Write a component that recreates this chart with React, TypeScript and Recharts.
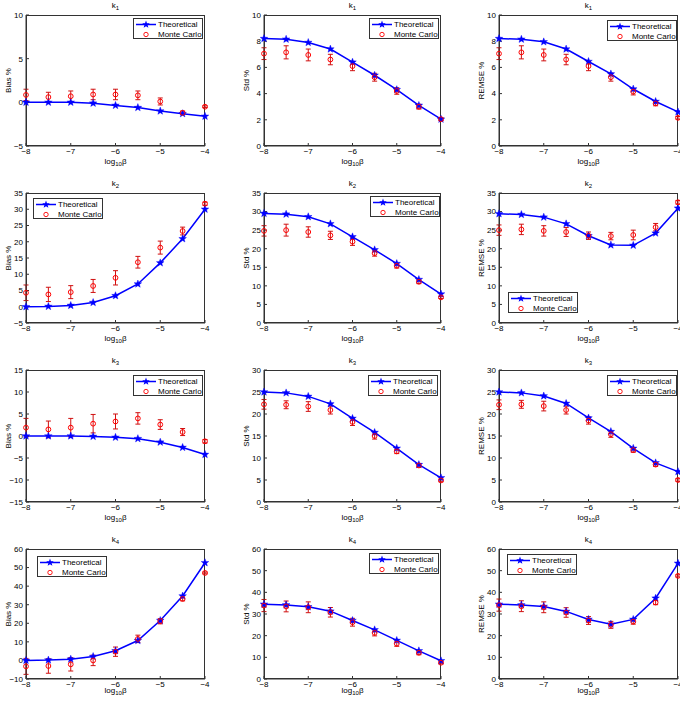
import React from 'react';
import { ComposedChart, Line, XAxis, YAxis, ErrorBar, Legend } from 'recharts';

const FONT = '"Liberation Sans", Arial, Helvetica, sans-serif';
const AX = '#333';
const BLUE = '#0000ff';
const RED = '#ff0000';
const BAR_RED = '#d01010';

const logBeta = [-8, -7.5, -7, -6.5, -6, -5.5, -5, -4.5, -4];
const xTicks = [-8, -7, -6, -5, -4];

// k1
const k1BiasTheo = [0, 0, 0, -0.1, -0.35, -0.6, -1.0, -1.3, -1.6];
const k1BiasMC = [0.85, 0.6, 0.7, 0.9, 0.9, 0.8, 0.1, -1.2, -0.5];
const k1BiasErr = [0.65, 0.55, 0.6, 0.6, 0.6, 0.5, 0.4, 0.2, 0.1];
const k1StdTheo = [8.2, 8.15, 7.9, 7.4, 6.4, 5.4, 4.3, 3.1, 2.05];
const k1StdMC = [7.05, 7.15, 6.95, 6.6, 6.1, 5.25, 4.2, 3.0, 2.05];
const k1StdErr = [0.45, 0.5, 0.45, 0.4, 0.35, 0.3, 0.25, 0.18, 0.1];
const k1RemseTheo = [8.2, 8.15, 7.95, 7.4, 6.45, 5.5, 4.35, 3.4, 2.6];
const k1RemseMC = [7.05, 7.15, 6.95, 6.6, 6.1, 5.25, 4.15, 3.25, 2.15];
const k1RemseErr = [0.45, 0.5, 0.45, 0.4, 0.35, 0.3, 0.25, 0.18, 0.1];

// k2
const k2BiasTheo = [0, 0.1, 0.4, 1.3, 3.4, 7.0, 13.5, 20.9, 30.0];
const k2BiasMC = [4.3, 3.8, 4.5, 6.4, 8.9, 13.7, 18.2, 23.3, 31.7];
const k2BiasErr = [2.4, 2.2, 2.0, 2.0, 2.2, 1.8, 2.0, 1.2, 0.5];
const k2StdTheo = [29.5, 29.3, 28.6, 26.7, 23.2, 19.7, 16.0, 11.7, 7.8];
const k2StdMC = [24.8, 25.0, 24.5, 23.6, 21.9, 18.8, 15.4, 11.1, 6.9];
const k2StdErr = [1.4, 1.6, 1.4, 1.1, 1.0, 0.8, 0.6, 0.5, 0.3];
const k2RemseTheo = [29.4, 29.2, 28.5, 26.7, 23.5, 21.0, 20.9, 24.2, 30.9];
const k2RemseMC = [25.0, 25.2, 24.8, 24.5, 23.5, 23.4, 23.7, 25.8, 32.5];
const k2RemseErr = [1.4, 1.4, 1.4, 1.2, 1.0, 1.0, 1.3, 1.0, 0.5];

// k3
const k3BiasTheo = [0, 0, 0, -0.1, -0.3, -0.6, -1.4, -2.6, -4.2];
const k3BiasMC = [1.9, 1.5, 1.9, 2.8, 3.3, 4.0, 2.6, 0.9, -1.2];
const k3BiasErr = [2.1, 1.9, 2.1, 2.1, 1.7, 1.3, 1.1, 0.8, 0.4];
const k3StdTheo = [25.0, 24.8, 24.0, 22.3, 19.0, 15.8, 12.2, 8.5, 5.5];
const k3StdMC = [22.2, 22.1, 21.7, 20.9, 18.2, 15.0, 11.5, 8.3, 4.9];
const k3StdErr = [1.1, 0.9, 1.1, 0.9, 0.8, 0.7, 0.5, 0.4, 0.3];
const k3RemseTheo = [25.0, 24.8, 24.1, 22.4, 19.1, 16.0, 12.2, 8.9, 6.9];
const k3RemseMC = [22.1, 22.2, 21.8, 20.9, 18.5, 15.4, 11.8, 8.5, 5.0];
const k3RemseErr = [1.1, 0.9, 1.1, 0.9, 0.8, 0.7, 0.5, 0.4, 0.3];

// k4
const k4BiasTheo = [0, 0.2, 0.7, 2.1, 5.2, 10.7, 21.5, 34.7, 52.6];
const k4BiasMC = [-3.2, -3.0, -2.1, 0, 4.7, 11.6, 21.1, 33.1, 47.1];
const k4BiasErr = [4.3, 3.9, 3.6, 2.8, 2.5, 2.0, 1.4, 1.0, 0.5];
const k4StdTheo = [34.5, 34.2, 33.3, 31.3, 27.0, 22.7, 17.8, 13.0, 8.4];
const k4StdMC = [33.9, 33.5, 33.1, 30.8, 26.2, 21.3, 16.3, 12.1, 7.5];
const k4StdErr = [2.8, 2.5, 2.5, 2.2, 1.8, 1.4, 1.2, 0.9, 0.5];
const k4RemseTheo = [34.5, 34.2, 33.5, 31.2, 27.5, 25.3, 27.5, 37.3, 53.4];
const k4RemseMC = [34.1, 33.6, 33.1, 30.7, 27.0, 25.0, 26.5, 35.3, 47.6];
const k4RemseErr = [2.8, 2.5, 2.5, 2.2, 1.8, 1.6, 1.2, 1.0, 0.5];

// y tick labels
const k1BiasTicks = [-5, 0, 5, 10];
const k1StdTicks = [0, 2, 4, 6, 8, 10];
const k2BiasTicks = [-5, 0, 5, 10, 15, 20, 25, 30, 35];
const k2StdTicks = [0, 5, 10, 15, 20, 25, 30, 35];
const k3BiasTicks = [-15, -10, -5, 0, 5, 10, 15];
const k3StdTicks = [0, 5, 10, 15, 20, 25, 30];
const k4BiasTicks = [-10, 0, 10, 20, 30, 40, 50, 60];
const k4StdTicks = [0, 10, 20, 30, 40, 50, 60];

// plot-area edges of the grid
const COLS = [{ x0: 26, x1: 205 }, { x0: 264, x1: 441 }, { x0: 499, x1: 678 }];
const ROWS = [{ y0: 15, y1: 146 }, { y0: 193, y1: 323 }, { y0: 370, y1: 502 }, { y0: 549, y1: 679 }];

const panels = [
  { k: '1', yLabel: 'Bias %', ticks: k1BiasTicks, theo: k1BiasTheo, mc: k1BiasMC, err: k1BiasErr, legend: { right: 2, top: 3 } },
  { k: '1', yLabel: 'Std %', ticks: k1StdTicks, theo: k1StdTheo, mc: k1StdMC, err: k1StdErr, legend: { right: 2, top: 3 } },
  { k: '1', yLabel: 'REMSE %', ticks: k1StdTicks, theo: k1RemseTheo, mc: k1RemseMC, err: k1RemseErr, legend: { right: 1, top: 5 } },
  { k: '2', yLabel: 'Bias %', ticks: k2BiasTicks, theo: k2BiasTheo, mc: k2BiasMC, err: k2BiasErr, legend: { left: 7, top: 5 } },
  { k: '2', yLabel: 'Std %', ticks: k2StdTicks, theo: k2StdTheo, mc: k2StdMC, err: k2StdErr, legend: { right: 1, top: 3 } },
  { k: '2', yLabel: 'REMSE %', ticks: k2StdTicks, theo: k2RemseTheo, mc: k2RemseMC, err: k2RemseErr, legend: { left: 9, bottom: 10 } },
  { k: '3', yLabel: 'Bias %', ticks: k3BiasTicks, theo: k3BiasTheo, mc: k3BiasMC, err: k3BiasErr, legend: { right: 2, top: 5 } },
  { k: '3', yLabel: 'Std %', ticks: k3StdTicks, theo: k3StdTheo, mc: k3StdMC, err: k3StdErr, legend: { right: 3, top: 5 } },
  { k: '3', yLabel: 'REMSE %', ticks: k3StdTicks, theo: k3RemseTheo, mc: k3RemseMC, err: k3RemseErr, legend: { right: 1, top: 5 } },
  { k: '4', yLabel: 'Bias %', ticks: k4BiasTicks, theo: k4BiasTheo, mc: k4BiasMC, err: k4BiasErr, legend: { left: 11, top: 7 } },
  { k: '4', yLabel: 'Std %', ticks: k4StdTicks, theo: k4StdTheo, mc: k4StdMC, err: k4StdErr, legend: { right: 2, top: 4 } },
  { k: '4', yLabel: 'REMSE %', ticks: k4StdTicks, theo: k4RemseTheo, mc: k4RemseMC, err: k4RemseErr, legend: { left: 8, top: 5 } },
];

const fmt = (v: number) => (v < 0 ? `\u2212${-v}` : `${v}`);

function starPath(cx: number, cy: number, R: number) {
  const r = R * 0.42;
  let d = '';
  for (let i = 0; i < 10; i++) {
    const a = -Math.PI / 2 + (i * Math.PI) / 5;
    const rad = i % 2 === 0 ? R : r;
    d += (i === 0 ? 'M' : 'L') + (cx + rad * Math.cos(a)).toFixed(2) + ',' + (cy + rad * Math.sin(a)).toFixed(2);
  }
  return d + 'Z';
}

const StarDot = (p: any) => {
  if (p.cx == null || p.cy == null) return <g key={p.index} />;
  return <path key={p.index} d={starPath(p.cx, p.cy, 4)} fill={BLUE} stroke={BLUE} strokeWidth={0.4} />;
};

const CircleDot = (p: any) => {
  if (p.cx == null || p.cy == null) return <g key={p.index} />;
  return <circle key={p.index} cx={p.cx} cy={p.cy} r={2.4} fill="none" stroke={RED} strokeWidth={1} />;
};

const LegendBox = () => (
  <div style={{
    width: 70, height: 21, boxSizing: 'border-box', border: `1px solid ${AX}`, background: '#fff',
    fontFamily: FONT, fontSize: 8, color: '#000', padding: '1px 0',
  }}>
    <div style={{ display: 'flex', alignItems: 'center', height: 9.5 }}>
      <svg width={23} height={9} style={{ display: 'block' }}>
        <line x1={2} y1={4.5} x2={22} y2={4.5} stroke={BLUE} strokeWidth={1.5} />
        <path d={starPath(12, 4.5, 4)} fill={BLUE} />
      </svg>
      <span style={{ marginLeft: 1 }}>Theoretical</span>
    </div>
    <div style={{ display: 'flex', alignItems: 'center', height: 9.5 }}>
      <svg width={23} height={9} style={{ display: 'block' }}>
        <circle cx={12} cy={4.5} r={2.2} fill="none" stroke={RED} strokeWidth={0.9} />
      </svg>
      <span style={{ marginLeft: 1 }}>Monte Carlo</span>
    </div>
  </div>
);

function Panel({ p, col, row }: { p: any; col: number; row: number }) {
  const { x0, x1 } = COLS[col];
  const { y0, y1 } = ROWS[row];
  const pw = x1 - x0;
  const ph = y1 - y0;
  const W = pw + 50;
  const H = ph + 45;
  const data = logBeta.map((x, i) => ({ x, theo: p.theo[i], mc: p.mc[i], err: p.err[i] }));
  const yDomain = [p.ticks[0], p.ticks[p.ticks.length - 1]];

  const lg = p.legend;
  const wrap: any = { width: 70, height: 21 };
  if (lg.right != null) wrap.right = 10 + lg.right; else wrap.left = 40 + lg.left;
  if (lg.top != null) wrap.top = 15 + lg.top; else wrap.bottom = 30 + lg.bottom;

  const xLabelDy = row === 3 ? 14 : 18;
  const xLabel = (props: any) => {
    const vb = props.viewBox;
    return (
      <text x={vb.x + vb.width / 2} y={vb.y + xLabelDy} textAnchor="middle" fontSize={8} fontFamily={FONT} fill="#000">
        log<tspan dy={2} fontSize={6}>10</tspan><tspan dy={-2}>β</tspan>
      </text>
    );
  };
  // y-axis label plus the panel title above the plot
  const yLabel = (props: any) => {
    const vb = props.viewBox;
    const cx = vb.x + vb.width - 18;
    const cy = vb.y + vb.height / 2;
    const plotLeft = vb.x + vb.width;
    return (
      <g>
        <text x={cx} y={cy} transform={`rotate(-90, ${cx}, ${cy})`} textAnchor="middle" dominantBaseline="central"
          fontSize={8} fontFamily={FONT} fill="#000">
          {p.yLabel}
        </text>
        <text x={plotLeft + pw / 2} y={vb.y - 7} textAnchor="middle" fontSize={8} fontFamily={FONT} fill="#000">
          k<tspan dy={2} fontSize={6}>{p.k}</tspan>
        </text>
      </g>
    );
  };

  const tickStyle = { fontSize: 8, fill: '#000', fontFamily: FONT };
  const axisLine = { stroke: AX, strokeWidth: 1 };
  const tickLine = { stroke: AX, strokeWidth: 1 };

  return (
    <div style={{ position: 'absolute', left: x0 - 40, top: y0 - 15 }}>
      {/* frame of the axes box */}
      <div style={{
        position: 'absolute', left: 40, top: 15, width: pw, height: ph,
        border: `1px solid ${AX}`, boxSizing: 'border-box', pointerEvents: 'none',
      }} />
      <ComposedChart width={W} height={H} data={data} margin={{ top: 15, right: 10, bottom: 0, left: 0 }}>
        <XAxis dataKey="x" type="number" domain={[-8, -4]} ticks={xTicks} interval={0} tickFormatter={fmt}
          tickSize={-3} tickMargin={5} height={30} axisLine={axisLine} tickLine={tickLine} tick={tickStyle} label={xLabel} />
        <YAxis type="number" domain={yDomain} ticks={p.ticks} interval={0} tickFormatter={fmt}
          tickSize={-3} tickMargin={6} width={40} axisLine={axisLine} tickLine={tickLine} tick={tickStyle} label={yLabel} />
        <Line dataKey="theo" stroke={BLUE} strokeWidth={1.5} dot={StarDot} activeDot={false} isAnimationActive={false} />
        <Line dataKey="mc" stroke="none" dot={CircleDot} activeDot={false} isAnimationActive={false}>
          <ErrorBar dataKey="err" direction="y" width={2.5} stroke={BAR_RED} strokeWidth={1} isAnimationActive={false} />
        </Line>
        <Legend content={LegendBox} wrapperStyle={wrap} layout="horizontal" verticalAlign="middle" align="center" />
      </ComposedChart>
    </div>
  );
}

export default function App() {
  return (
    <div style={{ position: 'absolute', left: 0, top: 0, width: 680, height: 701, overflow: 'hidden', background: '#fff' }}>
      {panels.map((p, i) => (
        <Panel key={i} p={p} col={i % 3} row={Math.floor(i / 3)} />
      ))}
    </div>
  );
}
